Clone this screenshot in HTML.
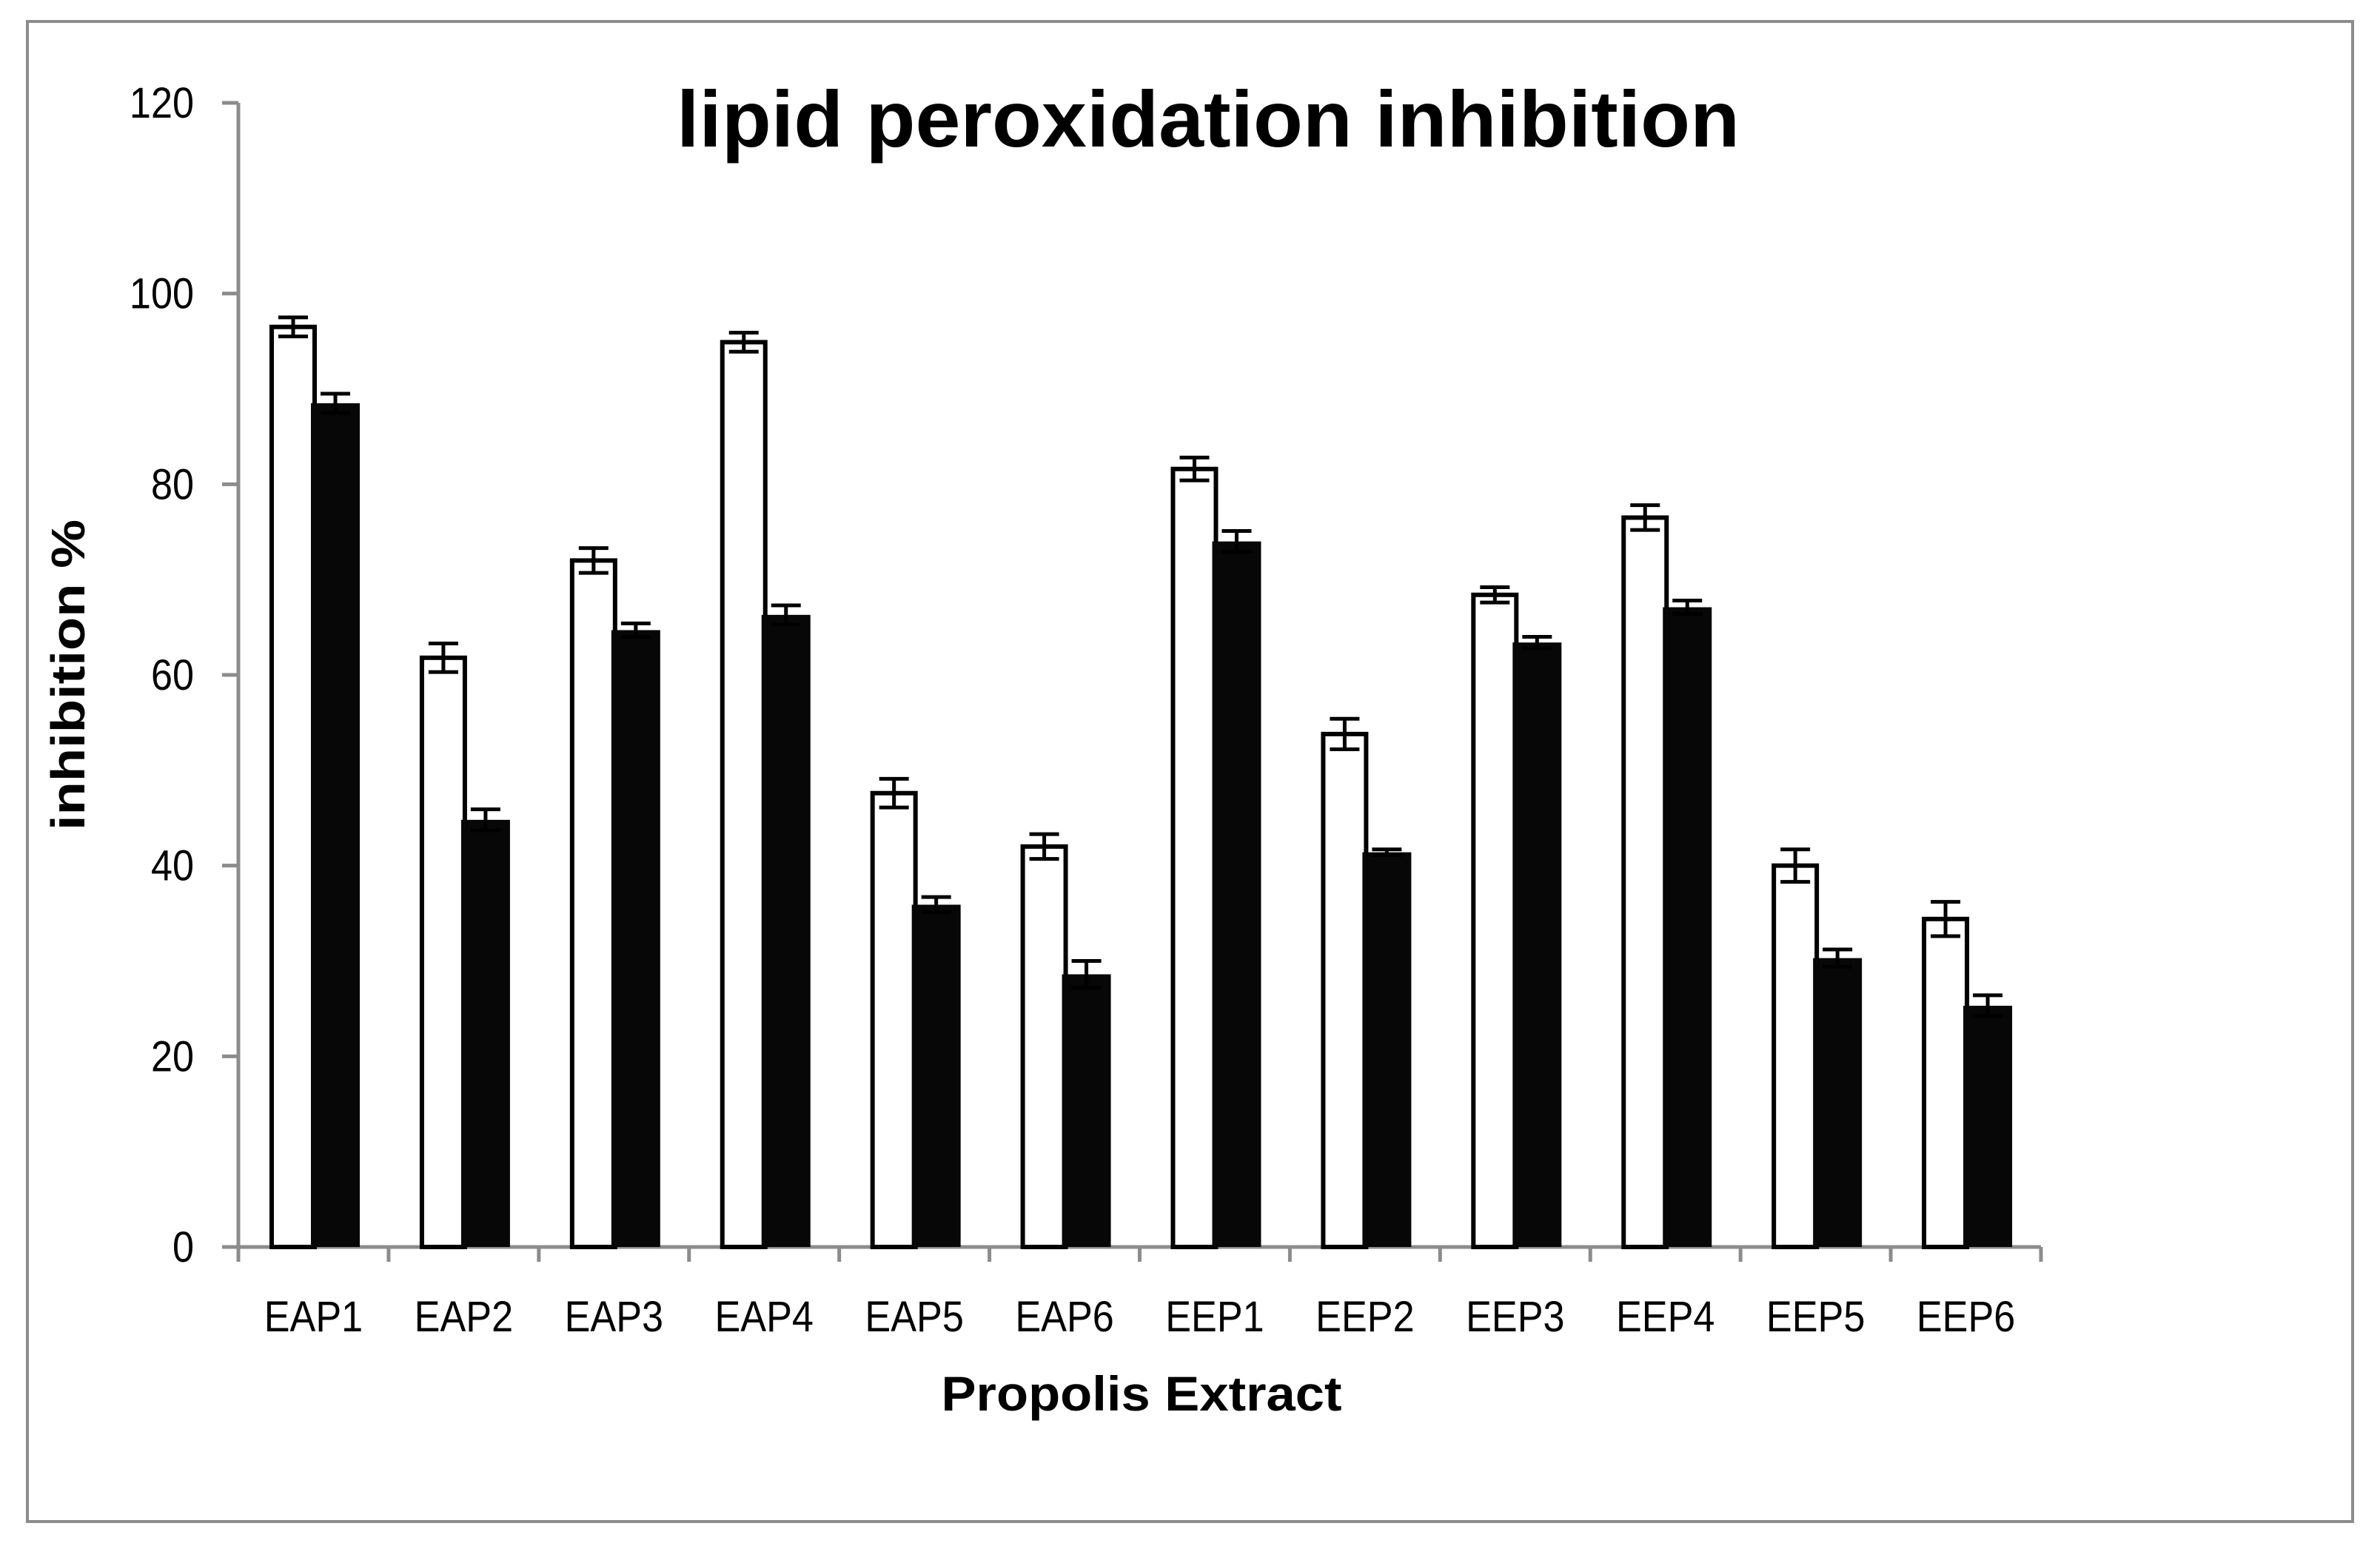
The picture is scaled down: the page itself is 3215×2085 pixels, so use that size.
<!DOCTYPE html>
<html><head><meta charset="utf-8"><style>
html,body{margin:0;padding:0;background:#fff;}
svg{display:block;}
text{font-family:"Liberation Sans",sans-serif;fill:#000;}
</style></head><body>
<svg id="chart" width="3215" height="2085" viewBox="0 0 3215 2085" xmlns="http://www.w3.org/2000/svg">
<rect x="37" y="29" width="3141" height="2027" fill="#fff" stroke="#8c8c8c" stroke-width="4"/>
<text x="1632" y="198" text-anchor="middle" font-size="108" font-weight="bold" textLength="1436" lengthAdjust="spacingAndGlyphs">lipid peroxidation inhibition</text>
<text x="1542" y="1906" text-anchor="middle" font-size="66" font-weight="bold" textLength="541" lengthAdjust="spacingAndGlyphs">Propolis Extract</text>
<text transform="translate(114,912) rotate(-90)" text-anchor="middle" font-size="64" font-weight="bold" textLength="420" lengthAdjust="spacingAndGlyphs">inhibition %</text>
<g id="axes"></g>
<g id="bars"></g>
</svg>
<script>
const categories = ["EAP1","EAP2","EAP3","EAP4","EAP5","EAP6","EEP1","EEP2","EEP3","EEP4","EEP5","EEP6"];
const whiteValues = [96.5,61.8,72.0,94.9,47.6,42.0,81.6,53.8,68.4,76.5,40.0,34.4];
const whiteErrors = [1.0,1.5,1.3,1.0,1.5,1.3,1.2,1.6,0.8,1.3,1.7,1.8];
const blackValues = [88.5,44.8,64.7,66.3,35.9,28.6,74.0,41.4,63.4,67.1,30.3,25.3];
const blackErrors = [1.0,1.1,0.7,1.0,0.8,1.4,1.1,0.3,0.6,0.7,0.9,1.1];
const yTicks = [0,20,40,60,80,100,120];

const NS = "http://www.w3.org/2000/svg";
const X0 = 322, X1 = 2757, Y0 = 1685, Y120 = 139;
const catW = (X1 - X0) / categories.length;
function yScale(v){ return Y0 - (v/120)*(Y0 - Y120); }
function xScale(i){ return X0 + i*catW; }
function mk(tag, attrs, parent){
  const e = document.createElementNS(NS, tag);
  for (const k in attrs) e.setAttribute(k, attrs[k]);
  parent.appendChild(e);
  return e;
}
const axes = document.getElementById('axes');
const bars = document.getElementById('bars');

yTicks.forEach(t => {
  const y = yScale(t);
  const tk = mk('line', {x1:X0-22, x2:X0, y1:y, y2:y, stroke:'#8c8c8c', 'stroke-width':5}, axes);
  
  
  const lb = mk('text', {x:0, y:0, 'text-anchor':'end', 'font-size':58, transform:'translate(262,' + (y+20) + ') scale(0.9,1)'}, axes);
  lb.textContent = t;
  
  
});

categories.forEach((c, i) => {
  const x = xScale(i);
  const wx = x + 45, ww = 58;
  const bx = x + 98, bw = 66;
  const wy = yScale(whiteValues[i]);
  const w = mk('rect', {x:wx, y:wy, width:ww, height:Y0-wy, fill:'#fff', stroke:'#000', 'stroke-width':6}, bars);
  
  
  const by = yScale(blackValues[i]);
  const b = mk('rect', {x:bx, y:by, width:bw, height:Y0-by, fill:'#070707'}, bars);
  
  
  [[wx+ww/2, whiteValues[i], whiteErrors[i], 'white'], [bx+bw/2, blackValues[i], blackErrors[i], 'black']].forEach(([cx, v, e, s]) => {
    const yt = yScale(v+e), yb = yScale(v-e);
    const g = mk('g', {stroke:'#000', 'stroke-width':5}, bars);
    
    
    mk('line', {x1:cx, x2:cx, y1:yt, y2:yb}, g);
    mk('line', {x1:cx-20, x2:cx+20, y1:yt, y2:yt}, g);
    mk('line', {x1:cx-20, x2:cx+20, y1:yb, y2:yb}, g);
  });
  const lb = mk('text', {x:0, y:0, 'text-anchor':'middle', 'font-size':58, transform:'translate(' + (x+catW/2) + ',1799) scale(0.9,1)'}, axes);
  lb.textContent = c;
  
  
});

for (let i = 0; i <= categories.length; i++) {
  const x = xScale(i);
  const tk = mk('line', {x1:x, x2:x, y1:Y0, y2:Y0+20, stroke:'#8c8c8c', 'stroke-width':5}, axes);
  
  
}
const ya = mk('line', {x1:X0, x2:X0, y1:Y120, y2:Y0, stroke:'#8c8c8c', 'stroke-width':5}, axes);


const xa = mk('line', {x1:X0-22, x2:X1, y1:Y0, y2:Y0, stroke:'#8c8c8c', 'stroke-width':5}, axes);


</script>
</body></html>
